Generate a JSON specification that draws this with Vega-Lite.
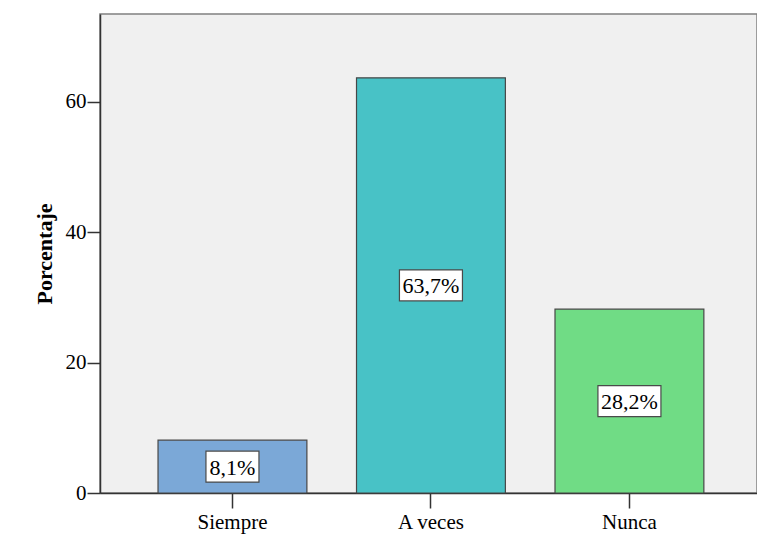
{
  "$schema": "https://vega.github.io/schema/vega-lite/v6.json",
  "autosize": "none",
  "padding": {"left": 100, "top": 14, "right": 0, "bottom": 41},
  "width": 657,
  "height": 479,
  "background": "white",
  "data": {
    "values": [
      {"respuesta": "Siempre", "pct": 8.1},
      {"respuesta": "A veces", "pct": 63.7},
      {"respuesta": "Nunca", "pct": 28.2}
    ]
  },
  "transform": [
    {"calculate": "datum.pct / 2", "as": "mid"},
    {"calculate": "replace(format(datum.pct, '.1f'), '.', ',') + '%'", "as": "etiqueta"},
    {"calculate": "length(datum.etiqueta)", "as": "chars"}
  ],
  "encoding": {
    "x": {
      "field": "respuesta",
      "type": "nominal",
      "sort": ["Siempre", "A veces", "Nunca"],
      "scale": {"paddingInner": 0.25, "paddingOuter": 0.28, "align": 0.522},
      "axis": {
        "title": null,
        "labelAngle": 0,
        "labelFont": "Liberation Serif",
        "labelFontSize": 21,
        "labelColor": "black",
        "labelPadding": 3,
        "tickSize": 15,
        "tickColor": "#333333",
        "domainColor": "#333333",
        "tickWidth": 1.5,
        "domainWidth": 1.5
      }
    }
  },
  "layer": [
    {
      "mark": {"type": "bar", "stroke": "#474747", "strokeWidth": 1.2},
      "encoding": {
        "y": {
          "field": "pct",
          "type": "quantitative",
          "title": "Porcentaje",
          "scale": {"domain": [0, 73.5], "nice": false},
          "axis": {
            "values": [0, 20, 40, 60],
            "grid": false,
            "tickSize": 13,
            "tickColor": "#333333",
            "tickWidth": 1.5,
            "domainColor": "#333333",
            "domainWidth": 1.5,
            "labelFont": "Liberation Serif",
            "labelFontSize": 21,
            "labelColor": "black",
            "labelPadding": 1,
            "titleFont": "Liberation Serif",
            "titleFontSize": 22,
            "titleFontWeight": "bold",
            "titleColor": "black",
            "titlePadding": 9
          }
        },
        "color": {
          "field": "respuesta",
          "type": "nominal",
          "scale": {
            "domain": ["Siempre", "A veces", "Nunca"],
            "range": ["#7BA8D7", "#48C2C6", "#70DC85"]
          },
          "legend": null
        }
      }
    },
    {
      "mark": {"type": "tick", "thickness": 31, "fill": "white", "stroke": "#4a4a4a", "strokeWidth": 1.2, "opacity": 1},
      "encoding": {
        "y": {"field": "mid", "type": "quantitative", "title": "Porcentaje"},
        "size": {
          "field": "chars",
          "type": "quantitative",
          "scale": {"domain": [4, 5], "range": [53, 63], "zero": false},
          "legend": null
        }
      }
    },
    {
      "mark": {"type": "text", "font": "Liberation Serif", "fontSize": 22, "color": "black", "baseline": "middle", "dy": 1},
      "encoding": {
        "y": {"field": "mid", "type": "quantitative", "title": "Porcentaje"},
        "text": {"field": "etiqueta"}
      }
    }
  ],
  "config": {
    "view": {"fill": "#F0F0F0", "stroke": "#808080", "strokeWidth": 1.5}
  }
}
